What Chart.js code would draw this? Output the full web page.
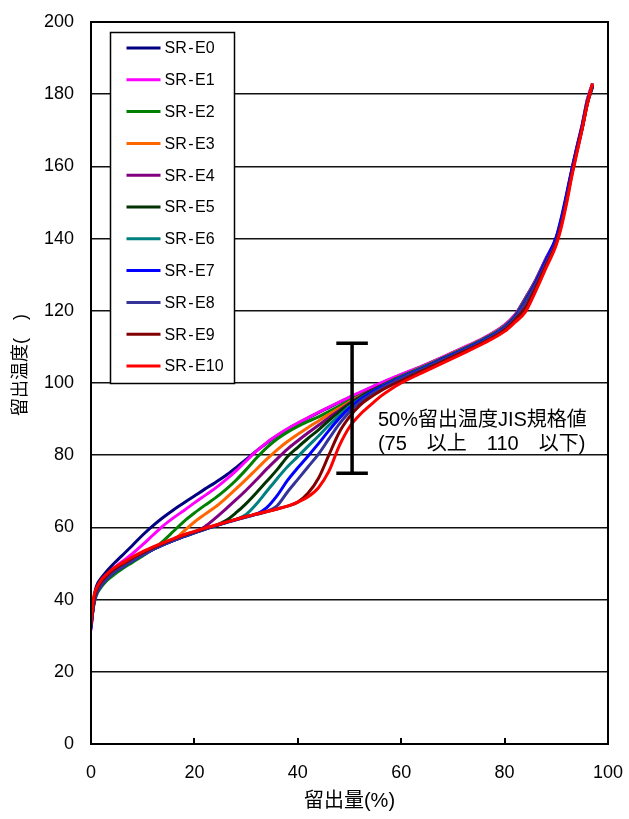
<!DOCTYPE html>
<html><head><meta charset="utf-8">
<script src="https://cdn.jsdelivr.net/npm/chart.js@4/dist/chart.umd.min.js"></script>
<style>html,body{margin:0;padding:0;background:#fff;}canvas{display:block;}</style>
</head><body>
<canvas id="c" width="629" height="819"></canvas>
<script>
const FONT = "'Liberation Sans', Arial, 'Noto Sans CJK JP', sans-serif";

// distilled amount (%) shared x grid
const xGrid = [0, 0.5, 1, 2, 3, 4, 5, 6, 8, 10, 12, 14, 16, 18, 20, 22, 24, 26, 28, 30, 32, 34, 36, 38, 40, 42, 44, 46, 48, 50, 52, 54, 56, 58, 60, 64, 68, 72, 76, 80, 82, 84, 86, 88, 90, 91, 92, 93, 94, 95, 96, 97];

const seriesNames = ['SR-E0','SR-E1','SR-E2','SR-E3','SR-E4','SR-E5','SR-E6','SR-E7','SR-E8','SR-E9','SR-E10'];
const seriesColors = ['#000080','#FF00FF','#008000','#FF6600','#800080','#003300','#008080','#0000FF','#333399','#800000','#FF0000'];

// distillation temperature (℃)
const sE0 = [34, 40, 43.5, 46, 47.8, 49.4, 50.8, 52.2, 55, 57.9, 60.5, 62.8, 64.9, 66.8, 68.7, 70.6, 72.4, 74.3, 76.5, 78.8, 81.2, 83.4, 85.4, 87.2, 88.8, 90.3, 91.8, 93.2, 94.6, 96, 97.3, 98.6, 99.9, 101.1, 102.3, 104.6, 107.1, 109.7, 112.4, 116, 118.8, 123.5, 128.5, 134.5, 140.3, 145.5, 152, 159, 165.5, 171.5, 178.5, 183];
const sE1 = [31.5, 39, 42.5, 45, 46.8, 48.2, 49.4, 50.5, 52.7, 55.2, 57.9, 60.5, 62.7, 64.7, 66.8, 68.8, 70.8, 73.1, 75.6, 78.4, 81.1, 83.5, 85.5, 87.3, 88.9, 90.4, 91.9, 93.3, 94.7, 96.1, 97.4, 98.7, 100, 101.2, 102.4, 104.7, 107.2, 109.8, 112.5, 116.1, 118.9, 123.4, 128.4, 134.3, 140.2, 145.4, 152, 159, 165.4, 171.4, 178.4, 182.8];
const sE2 = [33, 38, 41, 43.5, 45.2, 46.4, 47.5, 48.5, 50.3, 52.1, 54, 56.3, 59, 61.7, 64, 66.1, 68.1, 70.4, 73, 76, 79.2, 82.1, 84.5, 86.4, 88, 89.4, 90.6, 92.1, 93.6, 95.1, 96.5, 97.8, 99.1, 100.6, 101.9, 104.4, 106.9, 109.5, 112.3, 115.8, 118.6, 123.2, 128.2, 134, 140, 145.2, 151.6, 158.6, 165, 171, 178, 182.5];
const sE3 = [34, 39.5, 42, 44.5, 46.2, 47.4, 48.5, 49.4, 51, 52.6, 54, 55.3, 56.6, 59, 61.5, 63.6, 65.6, 68, 70.6, 73.3, 76.1, 78.9, 81.5, 83.8, 85.8, 87.7, 89.5, 91.3, 93, 94.7, 96.3, 97.7, 99.1, 100.5, 101.8, 104.3, 106.9, 109.5, 112.2, 115.8, 118.5, 123, 128, 133.8, 139.8, 145, 151.5, 158.5, 165, 171, 178, 182.5];
const sE4 = [32.5, 38.5, 41.5, 44, 45.7, 47, 48.1, 49, 50.8, 52.4, 53.9, 55.2, 56.4, 57.5, 58.6, 60.2, 62.5, 65, 67.6, 70.3, 73.2, 76.2, 79, 81.7, 84, 86.2, 88.3, 90.4, 92.4, 94.4, 96.2, 97.8, 99.2, 100.5, 101.8, 104.2, 106.8, 109.4, 112.1, 115.7, 118.5, 123, 128, 133.8, 139.7, 145, 151.4, 158.4, 164.8, 170.8, 177.8, 182.3];
const sE5 = [33.5, 39, 41.8, 44.2, 45.9, 47.2, 48.3, 49.2, 51, 52.6, 54, 55.3, 56.5, 57.6, 58.6, 59.6, 60.5, 61.8, 64, 66.6, 69.6, 72.8, 76, 79.6, 82.2, 84.7, 87, 89.6, 92, 94.2, 96, 97.6, 99.1, 100.4, 101.7, 104.2, 106.8, 109.4, 112.1, 115.6, 118.4, 122.8, 127.8, 133.6, 139.6, 144.8, 151.2, 158.2, 164.6, 170.6, 177.6, 182.2];
const sE6 = [33, 38.8, 41.6, 44, 45.7, 47, 48.1, 49, 50.8, 52.4, 53.9, 55.2, 56.4, 57.5, 58.5, 59.5, 60.4, 61.3, 62.2, 63.6, 66.5, 70, 73.5, 76.8, 79.6, 82.5, 85.3, 88.3, 91, 93.5, 95.6, 97.3, 98.9, 100.3, 101.6, 104.1, 106.7, 109.3, 112, 115.6, 118.3, 122.7, 127.7, 133.5, 139.5, 144.6, 151, 158, 164.5, 170.5, 177.5, 182];
const sE7 = [32, 38.5, 41.5, 44, 45.7, 47, 48.1, 49, 50.8, 52.4, 53.9, 55.2, 56.4, 57.5, 58.5, 59.5, 60.4, 61.3, 62.1, 62.9, 63.7, 65.5, 68.8, 73, 76.5, 79.8, 83.2, 86.8, 90.2, 93.1, 95.4, 97.2, 98.8, 100.2, 101.5, 104, 106.6, 109.2, 111.9, 115.4, 118.2, 122.6, 127.8, 134, 140.5, 146, 152.5, 159.2, 165.3, 171.2, 177.8, 182.2];
const sE8 = [32.5, 38.5, 41.5, 44, 45.7, 47, 48.1, 49, 50.8, 52.4, 53.9, 55.2, 56.4, 57.5, 58.5, 59.5, 60.4, 61.3, 62.1, 62.9, 63.6, 64.4, 66, 69.8, 73.3, 76.8, 80.3, 84.5, 88.6, 92, 94.7, 96.7, 98.4, 99.9, 101.3, 103.8, 106.4, 109, 111.7, 115.2, 118, 122.3, 127.3, 133.2, 139.3, 144.5, 151, 158, 164.5, 170.5, 177.4, 182];
const sE9 = [33, 39.5, 42.5, 45, 46.6, 47.9, 48.9, 49.8, 51.5, 53, 54.4, 55.6, 56.8, 57.9, 58.8, 59.7, 60.5, 61.4, 62.2, 63, 63.7, 64.4, 65.1, 65.9, 67, 69.5, 73.6, 80, 86.3, 90.6, 93.8, 96, 97.8, 99.3, 100.6, 103.3, 105.9, 108.6, 111.3, 114.7, 117.4, 120.8, 126.3, 132.5, 138.8, 144, 150.5, 157.8, 164.3, 170.5, 177.3, 182.5];
const sE10 = [33.5, 40.5, 43, 45.5, 47, 48.3, 49.3, 50.1, 51.8, 53.3, 54.6, 55.8, 56.9, 58, 58.9, 59.8, 60.6, 61.4, 62.2, 63, 63.7, 64.4, 65.1, 65.9, 67, 68.5, 71, 75.5, 82.5, 87.8, 91.2, 93.8, 96.3, 98.3, 100, 102.8, 105.5, 108.2, 111, 114.3, 116.8, 119.6, 125.4, 131.8, 138.3, 143.3, 149.8, 157.2, 163.8, 170.3, 177.2, 183];

const seriesValues = [sE0, sE1, sE2, sE3, sE4, sE5, sE6, sE7, sE8, sE9, sE10];

// JIS spec for 50% distillation temperature (range bar at 50% distilled)
const specX = 50.5;
const specLow = 75;
const specHigh = 111;
const specCapHalf = 3.05;

const xTitle = '留出量(%)';
const yTitle = '留出温度(　)';
const noteLines = ['50%留出温度JIS規格値', '(75　以上　110　以下)'];

const datasets = seriesValues.map((vals, i) => ({
  label: seriesNames[i],
  data: xGrid.map((x, k) => ({x: x, y: vals[k]})),
  borderColor: seriesColors[i],
  backgroundColor: seriesColors[i],
  borderWidth: 3,
  pointRadius: 0,
  showLine: true,
  fill: false,
  cubicInterpolationMode: 'monotone',
  order: seriesValues.length - i
}));
datasets.push({
  label: 'JIS',
  data: [
    {x: specX - specCapHalf, y: specHigh}, {x: specX + specCapHalf, y: specHigh}, {x: specX, y: null},
    {x: specX, y: specHigh}, {x: specX, y: specLow}, {x: specX, y: null},
    {x: specX - specCapHalf, y: specLow}, {x: specX + specCapHalf, y: specLow}
  ],
  borderColor: '#000',
  backgroundColor: '#000',
  borderWidth: 3.5,
  showLine: true,
  spanGaps: false,
  pointRadius: 0,
  tension: 0,
  order: -1
});

const decor = {
  id: 'decor',
  afterDraw(chart) {
    const {ctx, chartArea: a, scales: {x, y}} = chart;
    ctx.save();
    // plot border
    ctx.strokeStyle = '#000';
    ctx.lineWidth = 2;
    ctx.strokeRect(a.left, a.top, a.right - a.left, a.bottom - a.top);
    // inward x tick marks
    x.ticks.forEach(t => {
      if (t.value > x.min && t.value < x.max) {
        const px = Math.round(x.getPixelForValue(t.value));
        ctx.beginPath();
        ctx.moveTo(px, a.bottom);
        ctx.lineTo(px, a.bottom - 6);
        ctx.stroke();
      }
    });
    // legend box
    const lx = a.left + 19.5, ly = a.top + 10.5, lw = 124, lh = 351;
    ctx.fillStyle = '#fff';
    ctx.fillRect(lx, ly, lw, lh);
    ctx.lineWidth = 1.5;
    ctx.strokeRect(lx, ly, lw, lh);
    ctx.font = '16px ' + FONT;
    ctx.textAlign = 'left';
    ctx.textBaseline = 'middle';
    seriesNames.forEach((name, i) => {
      const cy = ly + 15.5 + i * 31.8;
      ctx.strokeStyle = seriesColors[i];
      ctx.lineWidth = 3;
      ctx.beginPath();
      ctx.moveTo(lx + 16, cy);
      ctx.lineTo(lx + 50, cy);
      ctx.stroke();
      ctx.fillStyle = '#000';
      const parts = name.split('-');
      let tx = lx + 54;
      ctx.fillText(parts[0], tx, cy + 1);
      tx += ctx.measureText(parts[0]).width + 1.5;
      ctx.fillText('-', tx, cy + 1);
      tx += ctx.measureText('-').width + 1.5;
      ctx.fillText(parts[1], tx, cy + 1);
    });
    // y-axis title
    ctx.save();
    ctx.translate(21.5, 365);
    ctx.rotate(-Math.PI / 2);
    ctx.textAlign = 'center';
    ctx.textBaseline = 'middle';
    ctx.font = '18px ' + FONT;
    ctx.fillStyle = '#000';
    ctx.fillText(yTitle, 0, 0);
    ctx.restore();
    // annotation
    ctx.font = '20px ' + FONT;
    ctx.fillStyle = '#000';
    ctx.textAlign = 'left';
    ctx.textBaseline = 'middle';
    const nx = x.getPixelForValue(55.5);
    ctx.fillText(noteLines[0], nx, y.getPixelForValue(89.5));
    ctx.fillText(noteLines[1], nx, y.getPixelForValue(83));
    ctx.restore();
  }
};

new Chart(document.getElementById('c'), {
  type: 'scatter',
  data: {datasets},
  options: {
    responsive: false,
    animation: false,
    devicePixelRatio: 1,
    layout: {autoPadding: false, padding: {top: 22, right: 21, left: 0, bottom: 0}},
    plugins: {legend: {display: false}, tooltip: {enabled: false}},
    scales: {
      x: {
        type: 'linear', min: 0, max: 100,
        ticks: {stepSize: 20, color: '#000', padding: 18, font: {family: FONT, size: 18}},
        grid: {drawOnChartArea: false, drawTicks: false},
        border: {color: '#000', width: 2},
        title: {display: true, text: xTitle, color: '#000', font: {family: FONT, size: 20}, padding: {top: 0, bottom: 6}},
        afterFit: s => { s.height = 75; s.paddingLeft = 0; s.paddingRight = 0; }
      },
      y: {
        type: 'linear', min: 0, max: 200,
        ticks: {stepSize: 20, color: '#000', padding: 17, font: {family: FONT, size: 18}},
        grid: {color: '#111', lineWidth: 1.5, drawTicks: false},
        border: {color: '#000', width: 2},
        afterFit: s => { s.width = 91; s.paddingTop = 0; s.paddingBottom = 0; }
      }
    }
  },
  plugins: [decor]
});
</script>
</body></html>
